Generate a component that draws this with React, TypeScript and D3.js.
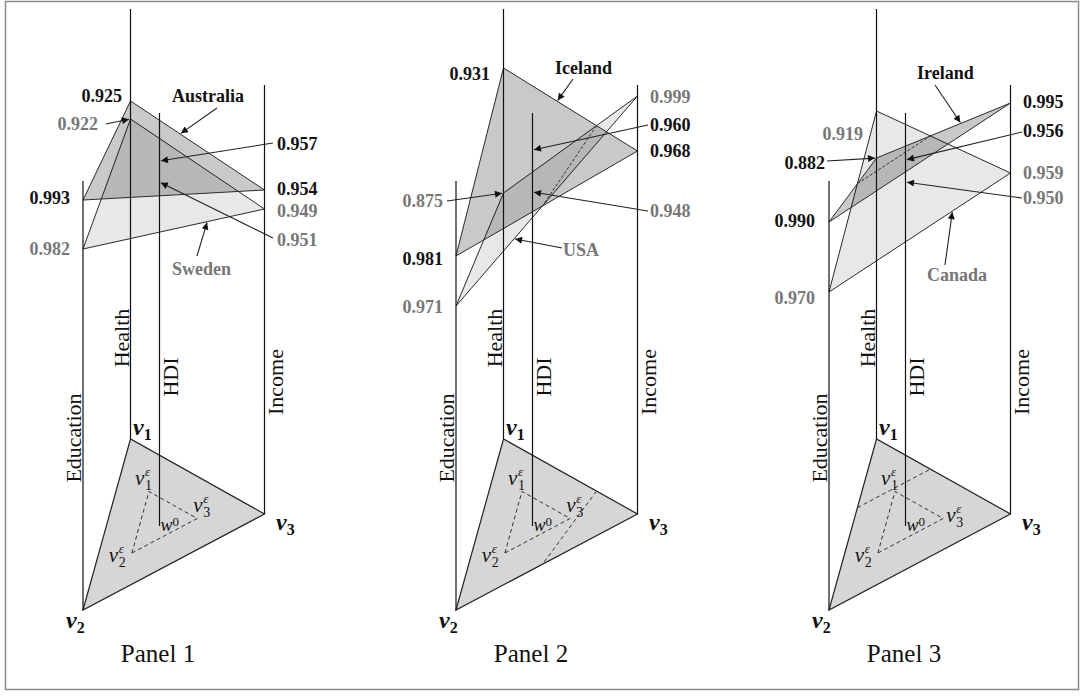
import React from 'react';
import * as d3 from 'd3';

type Pt = [number, number];
type Key = 'edu' | 'health' | 'hdi' | 'income';

const panelTitles = ['Panel 1', 'Panel 2', 'Panel 3'];
const axisNames: [Key, string][] = [['edu', 'Education'], ['health', 'Health'], ['hdi', 'HDI'], ['income', 'Income']];
// first country of a panel = darker triangle with black labels, second = light one with grey labels
const countries = [['Australia', 'Sweden'], ['Iceland', 'USA'], ['Ireland', 'Canada']];
const education = [[0.993, 0.982], [0.981, 0.971], [0.990, 0.970]];
const health = [[0.925, 0.922], [0.931, 0.875], [0.882, 0.919]];
const income = [[0.954, 0.949], [0.968, 0.999], [0.995, 0.959]];
const hdi = [[0.957, 0.951], [0.960, 0.948], [0.956, 0.950]];

// the figure is a schematic: each axis of each panel has its own vertical scale
const eduY = [[200, 249], [256, 306], [222, 292]];
const healthY = [[101, 119], [68, 193], [158, 111]];
const incomeY = [[190, 209], [151, 96], [103, 173]];
const hdiY = [[161, 182], [150, 192], [160, 182]];

const FONT = "'Liberation Serif', 'Times New Roman', serif";
const BLACK = '#111';
const GREY = '#777';
const OFFSET = 373;
const AX: Record<Key, number> = { edu: 83, health: 130.5, hdi: 159.5, income: 264.5 };
const AXIS_TOP: Record<Key, number> = { edu: 181, health: 9, hdi: 113, income: 85 };
const AXIS_BOTTOM: Record<Key, number> = { edu: 610, health: 439, hdi: 526, income: 514 };
const AXIS_LABEL: Record<Key, Pt> = { edu: [81, 438], health: [128.5, 338], hdi: [177.5, 377], income: [282.5, 382] };
const SHRINK = 0.36;

interface ValueLabel { k: Key; c: number; x: number; y: number; end?: boolean; tail?: Pt }
interface CountryLabel { x: number; y: number; tail: Pt; edge: 'HI' | 'EI'; t: number }

const valueLabels: ValueLabel[][] = [
  [
    { k: 'health', c: 0, x: 122, y: 102, end: true },
    { k: 'health', c: 1, x: 98, y: 130, end: true, tail: [106, 124] },
    { k: 'edu', c: 0, x: 70, y: 204, end: true },
    { k: 'edu', c: 1, x: 70, y: 255, end: true },
    { k: 'hdi', c: 0, x: 277, y: 150, tail: [273, 143] },
    { k: 'income', c: 0, x: 277, y: 195 },
    { k: 'income', c: 1, x: 277, y: 217 },
    { k: 'hdi', c: 1, x: 277, y: 246, tail: [273, 238] },
  ],
  [
    { k: 'health', c: 0, x: 117, y: 80, end: true },
    { k: 'health', c: 1, x: 70, y: 207, end: true, tail: [74, 201] },
    { k: 'edu', c: 0, x: 70, y: 265, end: true },
    { k: 'edu', c: 1, x: 70, y: 313, end: true },
    { k: 'income', c: 1, x: 277, y: 103 },
    { k: 'hdi', c: 0, x: 277, y: 131, tail: [275, 125] },
    { k: 'income', c: 0, x: 277, y: 157 },
    { k: 'hdi', c: 1, x: 277, y: 217, tail: [275, 211] },
  ],
  [
    { k: 'health', c: 1, x: 117, y: 140, end: true },
    { k: 'health', c: 0, x: 79, y: 169, end: true, tail: [81, 161] },
    { k: 'edu', c: 0, x: 69, y: 227, end: true },
    { k: 'edu', c: 1, x: 69, y: 304, end: true },
    { k: 'income', c: 0, x: 277, y: 108 },
    { k: 'hdi', c: 0, x: 277, y: 137, tail: [276, 132] },
    { k: 'income', c: 1, x: 277, y: 179 },
    { k: 'hdi', c: 1, x: 277, y: 204, tail: [276, 198] },
  ],
];

const countryLabels: CountryLabel[][] = [
  [
    { x: 172, y: 102, tail: [217, 108], edge: 'HI', t: 0.37 },
    { x: 172, y: 275, tail: [197, 256], edge: 'EI', t: 0.685 },
  ],
  [
    { x: 182, y: 74, tail: [200, 79], edge: 'HI', t: 0.4 },
    { x: 190, y: 256, tail: [189, 248], edge: 'EI', t: 0.32 },
  ],
  [
    { x: 171, y: 79, tail: [189, 85], edge: 'HI', t: 0.63 },
    { x: 181, y: 281, tail: [199, 265], edge: 'EI', t: 0.68 },
  ],
];

const lerp = (a: Pt, b: Pt, t: number): Pt => [a[0] + t * (b[0] - a[0]), a[1] + t * (b[1] - a[1])];

// where the two country planes cross: top line and its projection onto the base triangle
function crossing(a: Pt[], b: Pt[], base: Pt[]) {
  const d = a.map((pt, i) => pt[1] - b[i][1]);
  const top: Pt[] = [];
  const bot: Pt[] = [];
  [[0, 1], [1, 2], [2, 0]].forEach(([i, j]) => {
    if (d[i] * d[j] < 0) {
      const t = d[i] / (d[i] - d[j]);
      top.push(lerp(a[i], a[j], t));
      bot.push(lerp(base[i], base[j], t));
    }
  });
  return top.length === 2 ? { top, bot } : null;
}

// stop an arrow a little short of its target
const shorten = (from: Pt, to: Pt, by: number): Pt => {
  const dx = to[0] - from[0];
  const dy = to[1] - from[1];
  const len = Math.hypot(dx, dy);
  return [to[0] - (dx / len) * by, to[1] - (dy / len) * by];
};

const line = d3.line();
const poly = (pts: Pt[]) => line(pts) + 'Z';
const fmt = d3.format('.3f');

function Panel({ p }: { p: number }) {
  const values: Record<Key, number[]> = { edu: education[p], health: health[p], income: income[p], hdi: hdi[p] };
  const sc: Record<Key, d3.ScaleLinear<number, number>> = {
    edu: d3.scaleLinear().domain(education[p]).range(eduY[p]),
    health: d3.scaleLinear().domain(health[p]).range(healthY[p]),
    income: d3.scaleLinear().domain(income[p]).range(incomeY[p]),
    hdi: d3.scaleLinear().domain(hdi[p]).range(hdiY[p]),
  };
  const base: Pt[] = [
    [AX.edu, AXIS_BOTTOM.edu],
    [AX.health, AXIS_BOTTOM.health],
    [AX.income, AXIS_BOTTOM.income],
  ];
  const tri = (c: number): Pt[] => [
    [AX.edu, sc.edu(education[p][c])],
    [AX.health, sc.health(health[p][c])],
    [AX.income, sc.income(income[p][c])],
  ];
  const tops = [tri(0), tri(1)];
  const cen: Pt = [d3.mean(base, d => d[0])!, d3.mean(base, d => d[1])!];
  const inner = base.map(v => lerp(cen, v, SHRINK));
  const cross = crossing(tops[0], tops[1], base);
  const v3eOff: Pt = p === 2 ? [3, 4] : [-4, -6];

  return (
    <g transform={`translate(${p * OFFSET},0)`}>
      {/* base simplex */}
      <path d={poly(base)} fill="#d6d6d6" stroke="#222" strokeWidth={1.2} />
      <path d={poly(inner)} fill="none" stroke="#333" strokeWidth={1} strokeDasharray="4,3" />
      {cross && <path d={line(cross.bot)!} fill="none" stroke="#333" strokeWidth={1} strokeDasharray="4,3" />}

      {/* country triangles */}
      {[1, 0].map(c => (
        <path key={c} d={poly(tops[c])} fill="#000" fillOpacity={c === 0 ? 0.21 : 0.09} stroke="#2a2a2a" strokeWidth={1} />
      ))}
      {cross && <path d={line(cross.top)!} fill="none" stroke="#333" strokeWidth={1} strokeDasharray="3,2" />}

      {/* vertical axes */}
      {axisNames.map(([k]) => (
        <line key={k} x1={AX[k]} x2={AX[k]} y1={AXIS_TOP[k]} y2={AXIS_BOTTOM[k]} stroke="#111" strokeWidth={1.2} />
      ))}
      {axisNames.map(([k, name]) => (
        <text key={k} transform={`translate(${AXIS_LABEL[k][0]},${AXIS_LABEL[k][1]}) rotate(-90)`}
          textAnchor="middle" fontSize={22} fill="#111">{name}</text>
      ))}

      {/* value labels */}
      {valueLabels[p].map((l, i) => {
        const target: Pt = [AX[l.k], sc[l.k](values[l.k][l.c])];
        const end = l.tail ? shorten(l.tail, target, 1.5) : target;
        return (
          <g key={i}>
            {l.tail && (
              <line x1={l.tail[0]} y1={l.tail[1]} x2={end[0]} y2={end[1]}
                stroke="#222" strokeWidth={1.1} markerEnd="url(#ah)" />
            )}
            <text x={l.x} y={l.y} textAnchor={l.end ? 'end' : 'start'} fontSize={18} fontWeight="bold"
              fill={l.c === 0 ? BLACK : GREY}>{fmt(values[l.k][l.c])}</text>
          </g>
        );
      })}

      {/* country labels */}
      {countryLabels[p].map((l, c) => {
        const t = tops[c];
        const target = l.edge === 'HI' ? lerp(t[1], t[2], l.t) : lerp(t[0], t[2], l.t);
        const end = shorten(l.tail, target, 1);
        return (
          <g key={c}>
            <line x1={l.tail[0]} y1={l.tail[1]} x2={end[0]} y2={end[1]} stroke="#222" strokeWidth={1.1} markerEnd="url(#ah)" />
            <text x={l.x} y={l.y} fontSize={18} fontWeight="bold" fill={c === 0 ? BLACK : GREY}>{countries[p][c]}</text>
          </g>
        );
      })}

      {/* vertex names */}
      <text x={133} y={435} fontSize={24} fontWeight="bold" fontStyle="italic" fill="#111">
        v<tspan fontSize={16} dy={5} fontStyle="normal">1</tspan>
      </text>
      <text x={66} y={628} fontSize={24} fontWeight="bold" fontStyle="italic" fill="#111">
        v<tspan fontSize={16} dy={5} fontStyle="normal">2</tspan>
      </text>
      <text x={276} y={530} fontSize={24} fontWeight="bold" fontStyle="italic" fill="#111">
        v<tspan fontSize={16} dy={5} fontStyle="normal">3</tspan>
      </text>

      {[
        { n: '1', at: inner[1], off: [-14, -6] as Pt },
        { n: '2', at: inner[0], off: [-23, 9] as Pt },
        { n: '3', at: inner[2], off: v3eOff },
      ].map(d => {
        const x = d.at[0] + d.off[0];
        const y = d.at[1] + d.off[1];
        return (
          <text key={d.n} x={x} y={y} fontSize={21} fontStyle="italic" fill="#111">
            v
            <tspan x={x + 10} dy={-9} fontSize={13}>ε</tspan>
            <tspan x={x + 10} dy={14} fontSize={14} fontStyle="normal">{d.n}</tspan>
          </text>
        );
      })}
      <text x={AX.hdi + 1} y={AXIS_BOTTOM.hdi + 5} fontSize={18} fontStyle="italic" fill="#111">
        w<tspan dy={-5} fontSize={13} fontStyle="normal">0</tspan>
      </text>

      <text x={158} y={662} textAnchor="middle" fontSize={25} fill="#111">{panelTitles[p]}</text>
    </g>
  );
}

export default function App() {
  return (
    <div style={{ position: 'absolute', left: 0, top: 0 }}>
      <svg width={1085} height={696} style={{ display: 'block', background: '#fff', fontFamily: FONT }}>
        <defs>
          <marker id="ah" viewBox="0 0 10 10" refX={10} refY={5} markerWidth={9} markerHeight={7}
            markerUnits="userSpaceOnUse" orient="auto">
            <path d="M0,0 L10,5 L0,10 z" fill="#111" />
          </marker>
        </defs>
        <rect x={5.5} y={1.5} width={1073} height={688} fill="none" stroke="#8a8a8a" strokeWidth={1.5} />
        {panelTitles.map((_, p) => <Panel key={p} p={p} />)}
      </svg>
    </div>
  );
}
